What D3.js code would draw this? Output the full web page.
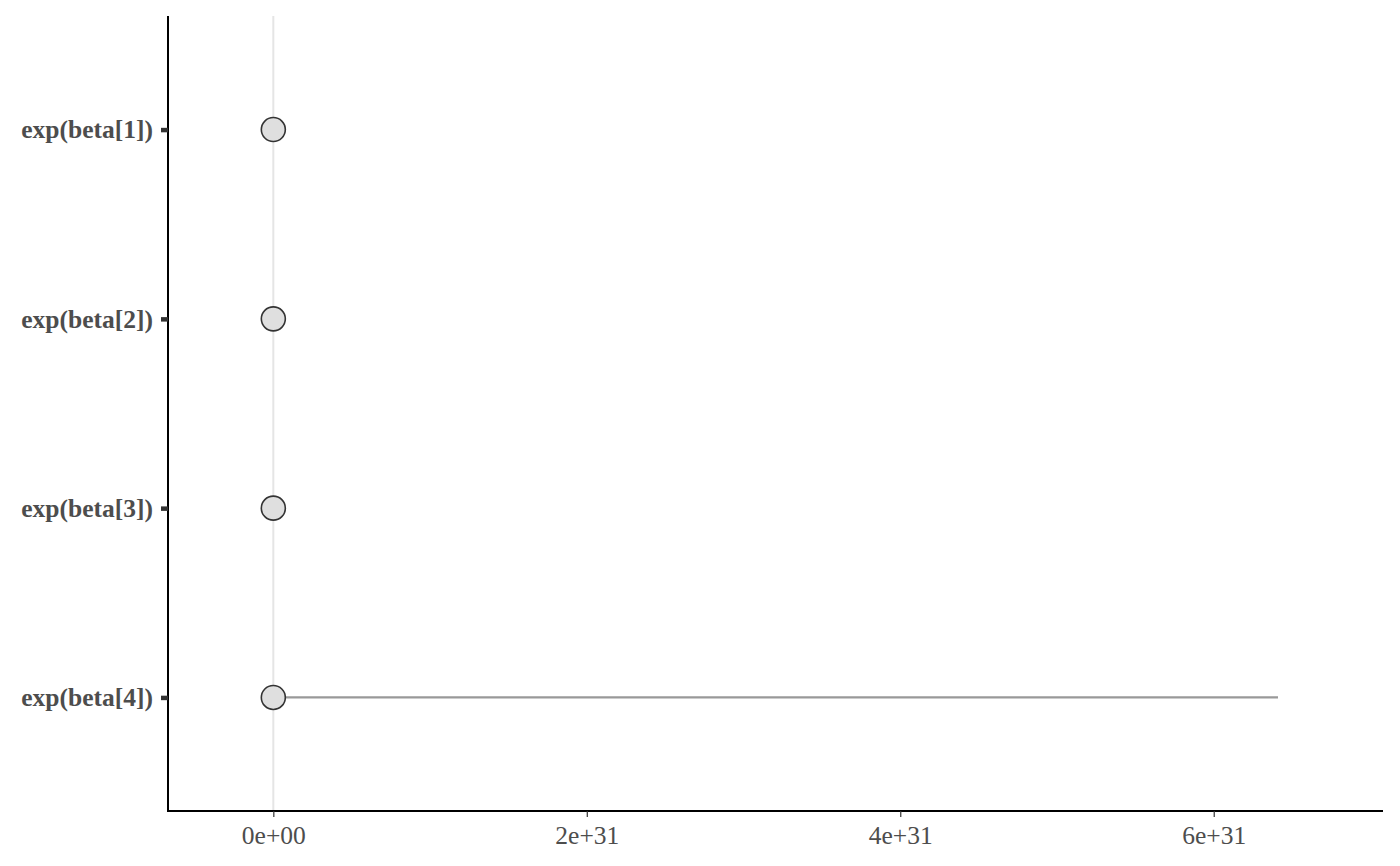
<!DOCTYPE html>
<html><head><meta charset="utf-8">
<script src="https://cdn.jsdelivr.net/npm/d3@7"></script>
<style>body{margin:0;background:#fff}</style>
</head><body>
<svg id="c" width="1400" height="866"></svg>
<script>
const params = ["exp(beta[1])","exp(beta[2])","exp(beta[3])","exp(beta[4])"];
const medians = [1.2e14, 3.5e10, 2.1e8, 4.0e12];
const lowers = [0, 0, 0, 0];
const uppers = [1.0e27, 2.0e25, 5.0e23, 6.41e31];
const xTicks = [0, 2e31, 4e31, 6e31];
const xTickLabels = ["0e+00","2e+31","4e+31","6e+31"];
const xDomain = [-0.672e31, 7.08e31];

const svg = d3.select("#c");
const L = 168, R = 1383, T = 16, B = 811;
const x = d3.scaleLinear().domain(xDomain).range([L, R]);
const y = d3.scalePoint().domain(params).range([T, B]).padding(0.6);

// vertical reference line at 0
svg.append("line").attr("x1", x(0)).attr("x2", x(0)).attr("y1", T).attr("y2", B)
  .attr("stroke", "#e5e5e5").attr("stroke-width", 2);

// intervals
params.forEach((p, i) => {
  svg.append("line").attr("x1", x(lowers[i])).attr("x2", x(uppers[i]))
    .attr("y1", y(p)).attr("y2", y(p)).attr("stroke", "#999").attr("stroke-width", 2.2);
});
params.forEach((p, i) => {
  svg.append("circle").attr("cx", x(medians[i])).attr("cy", y(p)).attr("r", 12)
    .attr("fill", "#dfdfdf").attr("stroke", "#333").attr("stroke-width", 1.6);
});

// x axis
const xa = svg.append("g").attr("transform", `translate(0,${B})`)
  .call(d3.axisBottom(x).tickValues(xTicks).tickFormat((d,i)=>xTickLabels[i]).tickSize(6).tickSizeOuter(0));
xa.select(".domain").attr("stroke", "#000").attr("stroke-width", 2).attr("d", `M${L-1},0H${R}`);
xa.selectAll(".tick line").attr("stroke", "#333").attr("stroke-width", 1.2);
xa.selectAll(".tick text").attr("font-family", "Liberation Serif, serif").attr("font-size", 25.5)
  .attr("fill", "#4d4d4d").attr("y", 33).attr("dy", 0);

// y axis
const ya = svg.append("g").attr("transform", `translate(${L},0)`)
  .call(d3.axisLeft(y).tickSize(7).tickSizeOuter(0).tickPadding(8));
ya.select(".domain").attr("stroke", "#000").attr("stroke-width", 2).attr("d", `M0,${T}V${B+1}`);
ya.selectAll(".tick line").attr("stroke", "#333").attr("stroke-width", 4.5);
ya.selectAll(".tick text").attr("font-family", "Liberation Serif, serif").attr("font-size", 25.5)
  .attr("font-weight", "bold").attr("fill", "#4d4d4d").attr("dy", "0.33em");
</script>
</body></html>
